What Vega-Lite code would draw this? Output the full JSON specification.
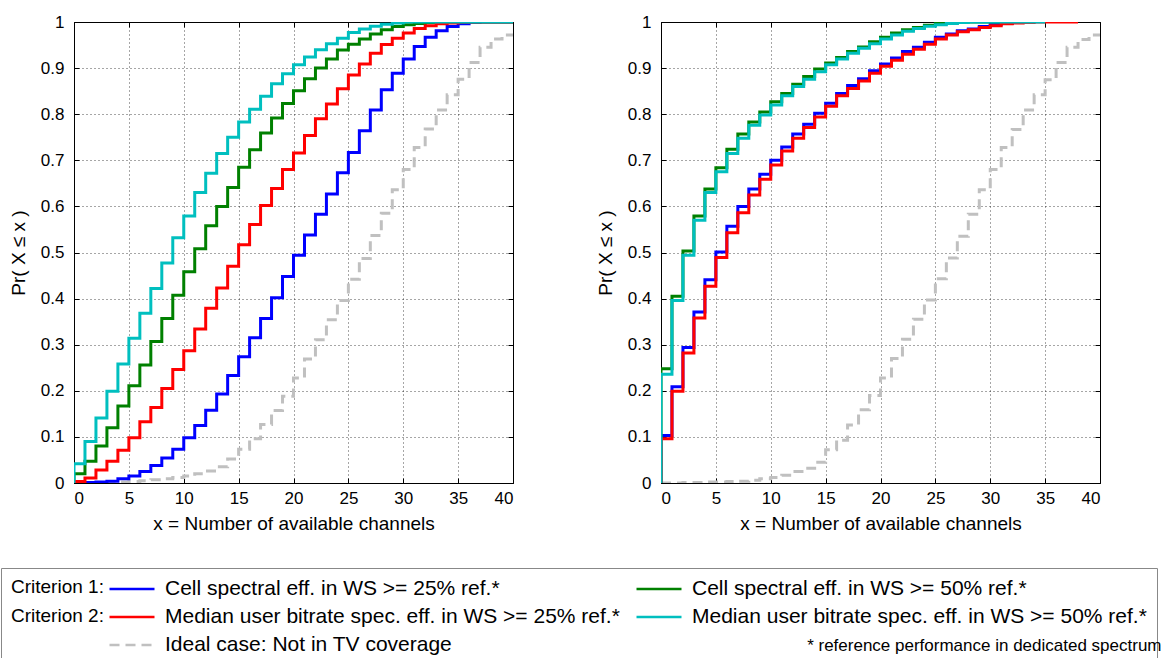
{
  "$schema": "https://vega.github.io/schema/vega-lite/v6.json",
  "padding": {"left": 0, "top": 12, "right": 0, "bottom": 0},
  "background": "white",
  "title": {"text": "* reference performance in dedicated spectrum", "orient": "bottom", "anchor": "end", "frame": "bounds", "baseline": "alphabetic", "offset": -15, "dx": 4, "font": "Liberation Sans", "fontSize": 17, "fontWeight": "normal", "color": "#000"},
  "config": {
    "font": "Liberation Sans",
    "view": {"stroke": "#000", "strokeWidth": 1},
    "axis": {"labelFont": "Liberation Sans", "labelFontSize": 17, "labelColor": "#000", "titleFont": "Liberation Sans", "titleFontSize": 19, "titleFontWeight": "normal", "titleColor": "#000", "domain": false, "tickColor": "#000", "tickSize": -5, "grid": true, "gridColor": "#000", "gridDash": [1, 3], "gridOpacity": 0.7}
  },
  "datasets": {
    "d": [
      {"p":"L","s":"id","x":0,"y":0},{"p":"L","s":"id","x":2,"y":0.001},{"p":"L","s":"id","x":4,"y":0.002},{"p":"L","s":"id","x":5,"y":0.003},{"p":"L","s":"id","x":6,"y":0.005},{"p":"L","s":"id","x":7,"y":0.007},{"p":"L","s":"id","x":8,"y":0.009},{"p":"L","s":"id","x":9,"y":0.012},{"p":"L","s":"id","x":10,"y":0.015},{"p":"L","s":"id","x":11,"y":0.02},{"p":"L","s":"id","x":12,"y":0.026},{"p":"L","s":"id","x":13,"y":0.035},{"p":"L","s":"id","x":14,"y":0.052},{"p":"L","s":"id","x":15,"y":0.073},{"p":"L","s":"id","x":16,"y":0.096},{"p":"L","s":"id","x":17,"y":0.127},{"p":"L","s":"id","x":18,"y":0.157},{"p":"L","s":"id","x":19,"y":0.188},{"p":"L","s":"id","x":20,"y":0.228},{"p":"L","s":"id","x":21,"y":0.269},{"p":"L","s":"id","x":22,"y":0.311},{"p":"L","s":"id","x":23,"y":0.354},{"p":"L","s":"id","x":24,"y":0.396},{"p":"L","s":"id","x":25,"y":0.442},{"p":"L","s":"id","x":26,"y":0.487},{"p":"L","s":"id","x":27,"y":0.537},{"p":"L","s":"id","x":28,"y":0.585},{"p":"L","s":"id","x":29,"y":0.636},{"p":"L","s":"id","x":30,"y":0.68},{"p":"L","s":"id","x":31,"y":0.728},{"p":"L","s":"id","x":32,"y":0.768},{"p":"L","s":"id","x":33,"y":0.809},{"p":"L","s":"id","x":34,"y":0.842},{"p":"L","s":"id","x":35,"y":0.876},{"p":"L","s":"id","x":36,"y":0.912},{"p":"L","s":"id","x":37,"y":0.945},{"p":"L","s":"id","x":38,"y":0.963},{"p":"L","s":"id","x":39,"y":0.972},{"p":"L","s":"id","x":40,"y":0.972},

      {"p":"L","s":"c1a","x":0,"y":0},{"p":"L","s":"c1a","x":1,"y":0.001},{"p":"L","s":"c1a","x":2,"y":0.002},{"p":"L","s":"c1a","x":3,"y":0.004},{"p":"L","s":"c1a","x":4,"y":0.009},{"p":"L","s":"c1a","x":5,"y":0.015},{"p":"L","s":"c1a","x":6,"y":0.025},{"p":"L","s":"c1a","x":7,"y":0.038},{"p":"L","s":"c1a","x":8,"y":0.054},{"p":"L","s":"c1a","x":9,"y":0.073},{"p":"L","s":"c1a","x":10,"y":0.098},{"p":"L","s":"c1a","x":11,"y":0.125},{"p":"L","s":"c1a","x":12,"y":0.158},{"p":"L","s":"c1a","x":13,"y":0.193},{"p":"L","s":"c1a","x":14,"y":0.233},{"p":"L","s":"c1a","x":15,"y":0.274},{"p":"L","s":"c1a","x":16,"y":0.315},{"p":"L","s":"c1a","x":17,"y":0.357},{"p":"L","s":"c1a","x":18,"y":0.402},{"p":"L","s":"c1a","x":19,"y":0.448},{"p":"L","s":"c1a","x":20,"y":0.494},{"p":"L","s":"c1a","x":21,"y":0.538},{"p":"L","s":"c1a","x":22,"y":0.583},{"p":"L","s":"c1a","x":23,"y":0.627},{"p":"L","s":"c1a","x":24,"y":0.673},{"p":"L","s":"c1a","x":25,"y":0.717},{"p":"L","s":"c1a","x":26,"y":0.764},{"p":"L","s":"c1a","x":27,"y":0.809},{"p":"L","s":"c1a","x":28,"y":0.853},{"p":"L","s":"c1a","x":29,"y":0.889},{"p":"L","s":"c1a","x":30,"y":0.92},{"p":"L","s":"c1a","x":31,"y":0.947},{"p":"L","s":"c1a","x":32,"y":0.967},{"p":"L","s":"c1a","x":33,"y":0.981},{"p":"L","s":"c1a","x":34,"y":0.99},{"p":"L","s":"c1a","x":35,"y":0.996},{"p":"L","s":"c1a","x":36,"y":0.999},{"p":"L","s":"c1a","x":37,"y":1},{"p":"L","s":"c1a","x":40,"y":1},

      {"p":"L","s":"c1b","x":0,"y":0},{"p":"L","s":"c1b","x":0,"y":0.02},{"p":"L","s":"c1b","x":1,"y":0.047},{"p":"L","s":"c1b","x":2,"y":0.08},{"p":"L","s":"c1b","x":3,"y":0.12},{"p":"L","s":"c1b","x":4,"y":0.167},{"p":"L","s":"c1b","x":5,"y":0.211},{"p":"L","s":"c1b","x":6,"y":0.256},{"p":"L","s":"c1b","x":7,"y":0.307},{"p":"L","s":"c1b","x":8,"y":0.357},{"p":"L","s":"c1b","x":9,"y":0.407},{"p":"L","s":"c1b","x":10,"y":0.458},{"p":"L","s":"c1b","x":11,"y":0.508},{"p":"L","s":"c1b","x":12,"y":0.558},{"p":"L","s":"c1b","x":13,"y":0.6},{"p":"L","s":"c1b","x":14,"y":0.641},{"p":"L","s":"c1b","x":15,"y":0.685},{"p":"L","s":"c1b","x":16,"y":0.723},{"p":"L","s":"c1b","x":17,"y":0.759},{"p":"L","s":"c1b","x":18,"y":0.792},{"p":"L","s":"c1b","x":19,"y":0.823},{"p":"L","s":"c1b","x":20,"y":0.851},{"p":"L","s":"c1b","x":21,"y":0.877},{"p":"L","s":"c1b","x":22,"y":0.9},{"p":"L","s":"c1b","x":23,"y":0.92},{"p":"L","s":"c1b","x":24,"y":0.939},{"p":"L","s":"c1b","x":25,"y":0.952},{"p":"L","s":"c1b","x":26,"y":0.963},{"p":"L","s":"c1b","x":27,"y":0.974},{"p":"L","s":"c1b","x":28,"y":0.983},{"p":"L","s":"c1b","x":29,"y":0.99},{"p":"L","s":"c1b","x":30,"y":0.994},{"p":"L","s":"c1b","x":31,"y":0.997},{"p":"L","s":"c1b","x":32,"y":0.999},{"p":"L","s":"c1b","x":33,"y":1},{"p":"L","s":"c1b","x":40,"y":1},

      {"p":"L","s":"c2a","x":0,"y":0},{"p":"L","s":"c2a","x":0,"y":0.003},{"p":"L","s":"c2a","x":1,"y":0.011},{"p":"L","s":"c2a","x":2,"y":0.028},{"p":"L","s":"c2a","x":3,"y":0.047},{"p":"L","s":"c2a","x":4,"y":0.071},{"p":"L","s":"c2a","x":5,"y":0.098},{"p":"L","s":"c2a","x":6,"y":0.133},{"p":"L","s":"c2a","x":7,"y":0.164},{"p":"L","s":"c2a","x":8,"y":0.205},{"p":"L","s":"c2a","x":9,"y":0.246},{"p":"L","s":"c2a","x":10,"y":0.287},{"p":"L","s":"c2a","x":11,"y":0.334},{"p":"L","s":"c2a","x":12,"y":0.379},{"p":"L","s":"c2a","x":13,"y":0.423},{"p":"L","s":"c2a","x":14,"y":0.47},{"p":"L","s":"c2a","x":15,"y":0.517},{"p":"L","s":"c2a","x":16,"y":0.561},{"p":"L","s":"c2a","x":17,"y":0.602},{"p":"L","s":"c2a","x":18,"y":0.639},{"p":"L","s":"c2a","x":19,"y":0.68},{"p":"L","s":"c2a","x":20,"y":0.716},{"p":"L","s":"c2a","x":21,"y":0.754},{"p":"L","s":"c2a","x":22,"y":0.79},{"p":"L","s":"c2a","x":23,"y":0.822},{"p":"L","s":"c2a","x":24,"y":0.855},{"p":"L","s":"c2a","x":25,"y":0.885},{"p":"L","s":"c2a","x":26,"y":0.909},{"p":"L","s":"c2a","x":27,"y":0.932},{"p":"L","s":"c2a","x":28,"y":0.951},{"p":"L","s":"c2a","x":29,"y":0.965},{"p":"L","s":"c2a","x":30,"y":0.976},{"p":"L","s":"c2a","x":31,"y":0.986},{"p":"L","s":"c2a","x":32,"y":0.992},{"p":"L","s":"c2a","x":33,"y":0.996},{"p":"L","s":"c2a","x":34,"y":0.998},{"p":"L","s":"c2a","x":35,"y":1},{"p":"L","s":"c2a","x":40,"y":1},

      {"p":"L","s":"c2b","x":0,"y":0},{"p":"L","s":"c2b","x":0,"y":0.042},{"p":"L","s":"c2b","x":1,"y":0.09},{"p":"L","s":"c2b","x":2,"y":0.141},{"p":"L","s":"c2b","x":3,"y":0.199},{"p":"L","s":"c2b","x":4,"y":0.258},{"p":"L","s":"c2b","x":5,"y":0.314},{"p":"L","s":"c2b","x":6,"y":0.368},{"p":"L","s":"c2b","x":7,"y":0.422},{"p":"L","s":"c2b","x":8,"y":0.477},{"p":"L","s":"c2b","x":9,"y":0.532},{"p":"L","s":"c2b","x":10,"y":0.579},{"p":"L","s":"c2b","x":11,"y":0.63},{"p":"L","s":"c2b","x":12,"y":0.672},{"p":"L","s":"c2b","x":13,"y":0.715},{"p":"L","s":"c2b","x":14,"y":0.75},{"p":"L","s":"c2b","x":15,"y":0.783},{"p":"L","s":"c2b","x":16,"y":0.811},{"p":"L","s":"c2b","x":17,"y":0.839},{"p":"L","s":"c2b","x":18,"y":0.866},{"p":"L","s":"c2b","x":19,"y":0.888},{"p":"L","s":"c2b","x":20,"y":0.907},{"p":"L","s":"c2b","x":21,"y":0.924},{"p":"L","s":"c2b","x":22,"y":0.94},{"p":"L","s":"c2b","x":23,"y":0.953},{"p":"L","s":"c2b","x":24,"y":0.965},{"p":"L","s":"c2b","x":25,"y":0.977},{"p":"L","s":"c2b","x":26,"y":0.985},{"p":"L","s":"c2b","x":27,"y":0.991},{"p":"L","s":"c2b","x":28,"y":0.995},{"p":"L","s":"c2b","x":29,"y":0.998},{"p":"L","s":"c2b","x":30,"y":1},{"p":"L","s":"c2b","x":40,"y":1},

      {"p":"R","s":"id","x":0,"y":0},{"p":"R","s":"id","x":2,"y":0.001},{"p":"R","s":"id","x":4,"y":0.002},{"p":"R","s":"id","x":6,"y":0.003},{"p":"R","s":"id","x":7,"y":0.004},{"p":"R","s":"id","x":8,"y":0.006},{"p":"R","s":"id","x":9,"y":0.009},{"p":"R","s":"id","x":10,"y":0.012},{"p":"R","s":"id","x":11,"y":0.017},{"p":"R","s":"id","x":12,"y":0.025},{"p":"R","s":"id","x":13,"y":0.032},{"p":"R","s":"id","x":14,"y":0.045},{"p":"R","s":"id","x":15,"y":0.072},{"p":"R","s":"id","x":16,"y":0.093},{"p":"R","s":"id","x":17,"y":0.126},{"p":"R","s":"id","x":18,"y":0.159},{"p":"R","s":"id","x":19,"y":0.19},{"p":"R","s":"id","x":20,"y":0.228},{"p":"R","s":"id","x":21,"y":0.27},{"p":"R","s":"id","x":22,"y":0.312},{"p":"R","s":"id","x":23,"y":0.355},{"p":"R","s":"id","x":24,"y":0.397},{"p":"R","s":"id","x":25,"y":0.443},{"p":"R","s":"id","x":26,"y":0.488},{"p":"R","s":"id","x":27,"y":0.535},{"p":"R","s":"id","x":28,"y":0.583},{"p":"R","s":"id","x":29,"y":0.636},{"p":"R","s":"id","x":30,"y":0.68},{"p":"R","s":"id","x":31,"y":0.728},{"p":"R","s":"id","x":32,"y":0.767},{"p":"R","s":"id","x":33,"y":0.809},{"p":"R","s":"id","x":34,"y":0.842},{"p":"R","s":"id","x":35,"y":0.875},{"p":"R","s":"id","x":36,"y":0.912},{"p":"R","s":"id","x":37,"y":0.945},{"p":"R","s":"id","x":38,"y":0.962},{"p":"R","s":"id","x":39,"y":0.972},{"p":"R","s":"id","x":40,"y":0.972},

      {"p":"R","s":"c1a","x":0,"y":0},{"p":"R","s":"c1a","x":0,"y":0.103},{"p":"R","s":"c1a","x":1,"y":0.209},{"p":"R","s":"c1a","x":2,"y":0.294},{"p":"R","s":"c1a","x":3,"y":0.371},{"p":"R","s":"c1a","x":4,"y":0.441},{"p":"R","s":"c1a","x":5,"y":0.501},{"p":"R","s":"c1a","x":6,"y":0.557},{"p":"R","s":"c1a","x":7,"y":0.6},{"p":"R","s":"c1a","x":8,"y":0.638},{"p":"R","s":"c1a","x":9,"y":0.67},{"p":"R","s":"c1a","x":10,"y":0.7},{"p":"R","s":"c1a","x":11,"y":0.729},{"p":"R","s":"c1a","x":12,"y":0.757},{"p":"R","s":"c1a","x":13,"y":0.778},{"p":"R","s":"c1a","x":14,"y":0.802},{"p":"R","s":"c1a","x":15,"y":0.824},{"p":"R","s":"c1a","x":16,"y":0.845},{"p":"R","s":"c1a","x":17,"y":0.862},{"p":"R","s":"c1a","x":18,"y":0.877},{"p":"R","s":"c1a","x":19,"y":0.894},{"p":"R","s":"c1a","x":20,"y":0.909},{"p":"R","s":"c1a","x":21,"y":0.922},{"p":"R","s":"c1a","x":22,"y":0.936},{"p":"R","s":"c1a","x":23,"y":0.945},{"p":"R","s":"c1a","x":24,"y":0.956},{"p":"R","s":"c1a","x":25,"y":0.967},{"p":"R","s":"c1a","x":26,"y":0.974},{"p":"R","s":"c1a","x":27,"y":0.981},{"p":"R","s":"c1a","x":28,"y":0.985},{"p":"R","s":"c1a","x":29,"y":0.99},{"p":"R","s":"c1a","x":30,"y":0.995},{"p":"R","s":"c1a","x":31,"y":0.997},{"p":"R","s":"c1a","x":32,"y":0.999},{"p":"R","s":"c1a","x":33,"y":1},{"p":"R","s":"c1a","x":34,"y":1},

      {"p":"R","s":"c1b","x":0,"y":0},{"p":"R","s":"c1b","x":0,"y":0.248},{"p":"R","s":"c1b","x":1,"y":0.405},{"p":"R","s":"c1b","x":2,"y":0.503},{"p":"R","s":"c1b","x":3,"y":0.579},{"p":"R","s":"c1b","x":4,"y":0.638},{"p":"R","s":"c1b","x":5,"y":0.684},{"p":"R","s":"c1b","x":6,"y":0.724},{"p":"R","s":"c1b","x":7,"y":0.757},{"p":"R","s":"c1b","x":8,"y":0.783},{"p":"R","s":"c1b","x":9,"y":0.805},{"p":"R","s":"c1b","x":10,"y":0.827},{"p":"R","s":"c1b","x":11,"y":0.845},{"p":"R","s":"c1b","x":12,"y":0.865},{"p":"R","s":"c1b","x":13,"y":0.882},{"p":"R","s":"c1b","x":14,"y":0.898},{"p":"R","s":"c1b","x":15,"y":0.911},{"p":"R","s":"c1b","x":16,"y":0.923},{"p":"R","s":"c1b","x":17,"y":0.936},{"p":"R","s":"c1b","x":18,"y":0.946},{"p":"R","s":"c1b","x":19,"y":0.957},{"p":"R","s":"c1b","x":20,"y":0.967},{"p":"R","s":"c1b","x":21,"y":0.976},{"p":"R","s":"c1b","x":22,"y":0.983},{"p":"R","s":"c1b","x":23,"y":0.988},{"p":"R","s":"c1b","x":24,"y":0.993},{"p":"R","s":"c1b","x":25,"y":0.997},{"p":"R","s":"c1b","x":26,"y":0.998},{"p":"R","s":"c1b","x":27,"y":1},{"p":"R","s":"c1b","x":33,"y":1},

      {"p":"R","s":"c2a","x":0,"y":0},{"p":"R","s":"c2a","x":0,"y":0.096},{"p":"R","s":"c2a","x":1,"y":0.199},{"p":"R","s":"c2a","x":2,"y":0.282},{"p":"R","s":"c2a","x":3,"y":0.358},{"p":"R","s":"c2a","x":4,"y":0.427},{"p":"R","s":"c2a","x":5,"y":0.489},{"p":"R","s":"c2a","x":6,"y":0.543},{"p":"R","s":"c2a","x":7,"y":0.586},{"p":"R","s":"c2a","x":8,"y":0.625},{"p":"R","s":"c2a","x":9,"y":0.659},{"p":"R","s":"c2a","x":10,"y":0.69},{"p":"R","s":"c2a","x":11,"y":0.72},{"p":"R","s":"c2a","x":12,"y":0.748},{"p":"R","s":"c2a","x":13,"y":0.771},{"p":"R","s":"c2a","x":14,"y":0.794},{"p":"R","s":"c2a","x":15,"y":0.817},{"p":"R","s":"c2a","x":16,"y":0.84},{"p":"R","s":"c2a","x":17,"y":0.856},{"p":"R","s":"c2a","x":18,"y":0.872},{"p":"R","s":"c2a","x":19,"y":0.889},{"p":"R","s":"c2a","x":20,"y":0.904},{"p":"R","s":"c2a","x":21,"y":0.917},{"p":"R","s":"c2a","x":22,"y":0.93},{"p":"R","s":"c2a","x":23,"y":0.941},{"p":"R","s":"c2a","x":24,"y":0.952},{"p":"R","s":"c2a","x":25,"y":0.963},{"p":"R","s":"c2a","x":26,"y":0.972},{"p":"R","s":"c2a","x":27,"y":0.979},{"p":"R","s":"c2a","x":28,"y":0.983},{"p":"R","s":"c2a","x":29,"y":0.988},{"p":"R","s":"c2a","x":30,"y":0.992},{"p":"R","s":"c2a","x":31,"y":0.996},{"p":"R","s":"c2a","x":32,"y":0.998},{"p":"R","s":"c2a","x":33,"y":0.999},{"p":"R","s":"c2a","x":34,"y":1},{"p":"R","s":"c2a","x":38,"y":1},

      {"p":"R","s":"c2b","x":0,"y":0},{"p":"R","s":"c2b","x":0,"y":0.236},{"p":"R","s":"c2b","x":1,"y":0.396},{"p":"R","s":"c2b","x":2,"y":0.494},{"p":"R","s":"c2b","x":3,"y":0.57},{"p":"R","s":"c2b","x":4,"y":0.63},{"p":"R","s":"c2b","x":5,"y":0.675},{"p":"R","s":"c2b","x":6,"y":0.715},{"p":"R","s":"c2b","x":7,"y":0.748},{"p":"R","s":"c2b","x":8,"y":0.776},{"p":"R","s":"c2b","x":9,"y":0.798},{"p":"R","s":"c2b","x":10,"y":0.82},{"p":"R","s":"c2b","x":11,"y":0.84},{"p":"R","s":"c2b","x":12,"y":0.86},{"p":"R","s":"c2b","x":13,"y":0.876},{"p":"R","s":"c2b","x":14,"y":0.892},{"p":"R","s":"c2b","x":15,"y":0.907},{"p":"R","s":"c2b","x":16,"y":0.92},{"p":"R","s":"c2b","x":17,"y":0.932},{"p":"R","s":"c2b","x":18,"y":0.943},{"p":"R","s":"c2b","x":19,"y":0.953},{"p":"R","s":"c2b","x":20,"y":0.963},{"p":"R","s":"c2b","x":21,"y":0.972},{"p":"R","s":"c2b","x":22,"y":0.98},{"p":"R","s":"c2b","x":23,"y":0.986},{"p":"R","s":"c2b","x":24,"y":0.991},{"p":"R","s":"c2b","x":25,"y":0.994},{"p":"R","s":"c2b","x":26,"y":0.997},{"p":"R","s":"c2b","x":27,"y":0.999},{"p":"R","s":"c2b","x":28,"y":1},{"p":"R","s":"c2b","x":35,"y":1}
    ]
  },
  "spacing": 78,
  "resolve": {"scale": {"color": "shared", "strokeDash": "shared"}, "legend": {"color": "shared", "strokeDash": "shared"}},
  "hconcat": [
    {
      "width": 439, "height": 461,
      "data": {"name": "d"},
      "transform": [{"filter": "datum.p === 'L'"}],
      "layer": [
        {
          "mark": {"type": "line", "interpolate": "step-after", "strokeWidth": 3, "clip": true},
          "encoding": {
            "x": {"field": "x", "type": "quantitative", "scale": {"domain": [0, 40], "nice": false}, "axis": {"values": [0,5,10,15,20,25,30,35,40], "title": "x = Number of available channels", "labelPadding": 12, "titlePadding": 8}},
            "y": {"field": "y", "type": "quantitative", "scale": {"domain": [0, 1], "nice": false}, "axis": {"values": [0,0.1,0.2,0.3,0.4,0.5,0.6,0.7,0.8,0.9,1], "format": "~g", "title": "Pr( X ≤ x )", "labelPadding": 15, "titlePadding": 12}},
            "color": {"field": "s", "type": "nominal",
              "scale": {"domain": ["c1a","c1b","c2a","c2b","id"], "range": ["#0000FF","#008000","#FF0000","#00BFBF","#C0C0C0"]},
              "legend": {"title": ["Criterion 1:", "Criterion 2:"], "orient": "none", "legendX": -73, "legendY": 546, "columns": 2, "direction": "horizontal",
                "titleOrient": "left", "titleAnchor": "start", "titleBaseline": "top", "titleFont": "Liberation Sans", "titleFontSize": 19, "titleFontWeight": "normal", "titleColor": "#000", "titleLineHeight": 28.8, "titlePadding": 4,
                "labelFont": "Liberation Sans", "labelFontSize": 21, "labelColor": "#000", "labelOffset": 35, "labelLimit": 0,
                "symbolType": "M-1,0H3.737", "symbolSize": 361, "symbolStrokeWidth": 2.5,
                "rowPadding": 7, "columnPadding": 11, "padding": 10, "strokeColor": "#888", "fillColor": "#fff",
                "labelExpr": "datum.label === 'c1a' ? 'Cell spectral eff. in WS >= 25% ref.*' : datum.label === 'c1b' ? 'Cell spectral eff. in WS >= 50% ref.*' : datum.label === 'c2a' ? 'Median user bitrate spec. eff. in WS >= 25% ref.*' : datum.label === 'c2b' ? 'Median user bitrate spec. eff. in WS >= 50% ref.*' : 'Ideal case: Not in TV coverage'"}},
            "strokeDash": {"field": "s", "type": "nominal",
              "scale": {"domain": ["c1a","c1b","c2a","c2b","id"], "range": [[1,0],[1,0],[1,0],[1,0],[10,6]]},
              "legend": {"title": ["Criterion 1:", "Criterion 2:"]}}
          }
        },
        {
          "mark": {"type": "point", "opacity": 0},
          "encoding": {
            "x": {"field": "x", "type": "quantitative", "axis": {"orient": "top", "values": [0,5,10,15,20,25,30,35,40], "labels": false, "title": null, "grid": false}},
            "y": {"field": "y", "type": "quantitative", "axis": {"orient": "right", "values": [0,0.1,0.2,0.3,0.4,0.5,0.6,0.7,0.8,0.9,1], "labels": false, "title": null, "grid": false}}
          }
        }
      ],
      "resolve": {"axis": {"x": "independent", "y": "independent"}}
    },
    {
      "width": 439, "height": 461,
      "data": {"name": "d"},
      "transform": [{"filter": "datum.p === 'R'"}],
      "layer": [
        {
          "mark": {"type": "line", "interpolate": "step-after", "strokeWidth": 3, "clip": true},
          "encoding": {
            "x": {"field": "x", "type": "quantitative", "scale": {"domain": [0, 40], "nice": false}, "axis": {"values": [0,5,10,15,20,25,30,35,40], "title": "x = Number of available channels", "labelPadding": 12, "titlePadding": 8}},
            "y": {"field": "y", "type": "quantitative", "scale": {"domain": [0, 1], "nice": false}, "axis": {"values": [0,0.1,0.2,0.3,0.4,0.5,0.6,0.7,0.8,0.9,1], "format": "~g", "title": "Pr( X ≤ x )", "labelPadding": 15, "titlePadding": 12}},
            "color": {"field": "s", "type": "nominal", "scale": {"domain": ["c1a","c1b","c2a","c2b","id"], "range": ["#0000FF","#008000","#FF0000","#00BFBF","#C0C0C0"]}, "legend": {"title": ["Criterion 1:", "Criterion 2:"]}},
            "strokeDash": {"field": "s", "type": "nominal", "scale": {"domain": ["c1a","c1b","c2a","c2b","id"], "range": [[1,0],[1,0],[1,0],[1,0],[10,6]]}, "legend": {"title": ["Criterion 1:", "Criterion 2:"]}}
          }
        },
        {
          "mark": {"type": "point", "opacity": 0},
          "encoding": {
            "x": {"field": "x", "type": "quantitative", "axis": {"orient": "top", "values": [0,5,10,15,20,25,30,35,40], "labels": false, "title": null, "grid": false}},
            "y": {"field": "y", "type": "quantitative", "axis": {"orient": "right", "values": [0,0.1,0.2,0.3,0.4,0.5,0.6,0.7,0.8,0.9,1], "labels": false, "title": null, "grid": false}}
          }
        }
      ],
      "resolve": {"axis": {"x": "independent", "y": "independent"}}
    }
  ]
}
